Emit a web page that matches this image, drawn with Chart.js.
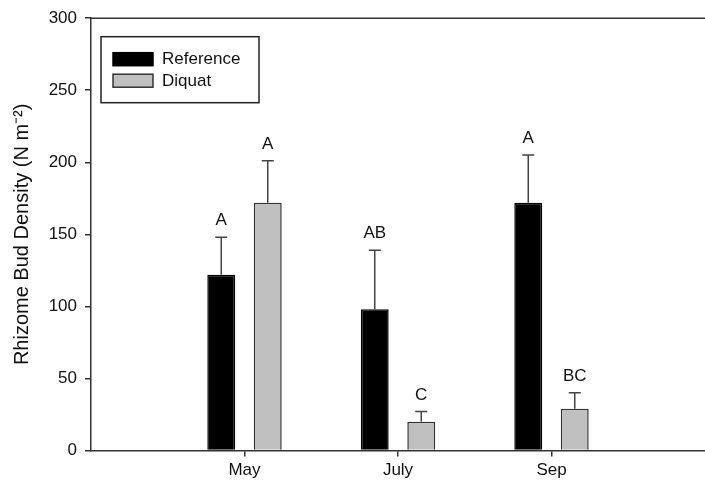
<!DOCTYPE html>
<html>
<head>
<meta charset="utf-8">
<script src="https://cdn.jsdelivr.net/npm/chart.js@4.4.1/dist/chart.umd.min.js"></script>
<style>
  html, body { margin: 0; padding: 0; background: #fff; }
  #wrap { width: 705px; height: 487px; }
</style>
</head>
<body>
<div id="wrap"><canvas id="budChart"></canvas></div>
<script>
// months sampled
const months = ['May', 'July', 'Sep'];
// mean rhizome bud density (N m-2)
const referenceMeans = [122, 98, 172];
const diquatMeans = [172, 20, 29];
// standard error (upper whisker only)
const referenceErr = [26, 41, 33];
const diquatErr = [29, 7, 11];
// letters from the post-hoc test
const referenceLetters = ['A', 'AB', 'A'];
const diquatLetters = ['A', 'C', 'BC'];
// y axis ticks
const yTicks = [0, 50, 100, 150, 200, 250, 300];

const FONT = '"Liberation Sans", Arial, sans-serif';
const AXIS = '#333';

// empty slots at both ends so the months sit where the original put them
const labels = ['', ...months, ''];
const pad = arr => [null, ...arr, null];

// error bars + letters above each bar
const errorBarPlugin = {
  id: 'errorBars',
  afterDatasetsDraw(chart) {
    const ctx = chart.ctx;
    const y = chart.scales.y;
    chart.data.datasets.forEach((ds, i) => {
      const meta = chart.getDatasetMeta(i);
      meta.data.forEach((bar, j) => {
        const v = ds.data[j];
        if (v == null) return;
        const top = y.getPixelForValue(v + ds.err[j]);
        ctx.save();
        ctx.strokeStyle = '#444';
        ctx.lineWidth = 1.5;
        ctx.beginPath();
        ctx.moveTo(bar.x, bar.y);
        ctx.lineTo(bar.x, top);
        ctx.moveTo(bar.x - 6, top);
        ctx.lineTo(bar.x + 6, top);
        ctx.stroke();
        ctx.fillStyle = '#111';
        ctx.font = '17px ' + FONT;
        ctx.textAlign = 'center';
        ctx.textBaseline = 'alphabetic';
        ctx.fillText(ds.letters[j], bar.x, top - 12);
        ctx.restore();
      });
    });
  }
};

// top frame line and boxed legend
const framePlugin = {
  id: 'frame',
  afterDraw(chart) {
    const ctx = chart.ctx;
    const a = chart.chartArea;
    ctx.save();
    ctx.strokeStyle = AXIS;
    ctx.lineWidth = 1.5;
    ctx.beginPath();
    ctx.moveTo(a.left, a.top);
    ctx.lineTo(a.right, a.top);
    ctx.stroke();

    const bx = a.left + 10, by = a.top + 18.5;
    ctx.strokeStyle = '#222';
    ctx.strokeRect(bx, by, 158, 66);
    ctx.font = '17px ' + FONT;
    ctx.textBaseline = 'middle';
    chart.data.datasets.forEach((ds, i) => {
      const sy = by + 16 + i * 21.5;
      ctx.fillStyle = ds.backgroundColor;
      ctx.fillRect(bx + 12, sy, 40, 13);
      ctx.strokeStyle = ds.borderColor;
      ctx.lineWidth = 1.5;
      ctx.strokeRect(bx + 12, sy, 40, 13);
      ctx.fillStyle = '#111';
      ctx.fillText(ds.label, bx + 61, sy + 7);
    });
    ctx.restore();
  }
};

new Chart(document.getElementById('budChart'), {
  type: 'bar',
  data: {
    labels: labels,
    datasets: [{
      label: 'Reference',
      data: pad(referenceMeans),
      err: pad(referenceErr),
      letters: pad(referenceLetters),
      backgroundColor: '#000',
      borderColor: '#000',
      borderWidth: 1.5,
      categoryPercentage: 0.606,
      barPercentage: 0.6
    }, {
      label: 'Diquat',
      data: pad(diquatMeans),
      err: pad(diquatErr),
      letters: pad(diquatLetters),
      backgroundColor: '#c0c0c0',
      borderColor: '#333',
      borderWidth: 1.5,
      categoryPercentage: 0.606,
      barPercentage: 0.6
    }]
  },
  options: {
    responsive: true,
    maintainAspectRatio: false,
    animation: false,
    layout: { padding: { top: 17, right: 0, left: 0, bottom: 0 } },
    plugins: {
      legend: { display: false },
      tooltip: { enabled: false }
    },
    scales: {
      x: {
        offset: false,
        grid: {
          offset: false,
          drawOnChartArea: false,
          tickLength: 6,
          lineWidth: 1.5,
          color: ctx => (labels[ctx.index] ? AXIS : 'rgba(0,0,0,0)')
        },
        border: { color: AXIS, width: 1.5 },
        ticks: {
          color: '#111',
          font: { family: FONT, size: 17 },
          padding: 4,
          maxRotation: 0,
          autoSkip: false
        },
        afterFit(scale) {
          scale.height = 36.5;
          // the end slots are empty, no label room needed
          scale.paddingLeft = 0;
          scale.paddingRight = 0;
        }
      },
      y: {
        min: 0,
        max: 300,
        afterBuildTicks(scale) { scale.ticks = yTicks.map(v => ({ value: v })); },
        grid: {
          drawOnChartArea: false,
          tickLength: 6,
          lineWidth: 1.5,
          color: AXIS
        },
        border: { color: AXIS, width: 1.5 },
        ticks: {
          color: '#111',
          font: { family: FONT, size: 17 },
          padding: 8
        },
        title: {
          display: true,
          text: 'Rhizome Bud Density (N m\u207B\u00B2)',
          color: '#111',
          font: { family: FONT, size: 20 },
          padding: { top: 10, bottom: 4 }
        },
        afterFit(scale) { scale.width = 91; }
      }
    }
  },
  plugins: [errorBarPlugin, framePlugin]
});
</script>
</body>
</html>
